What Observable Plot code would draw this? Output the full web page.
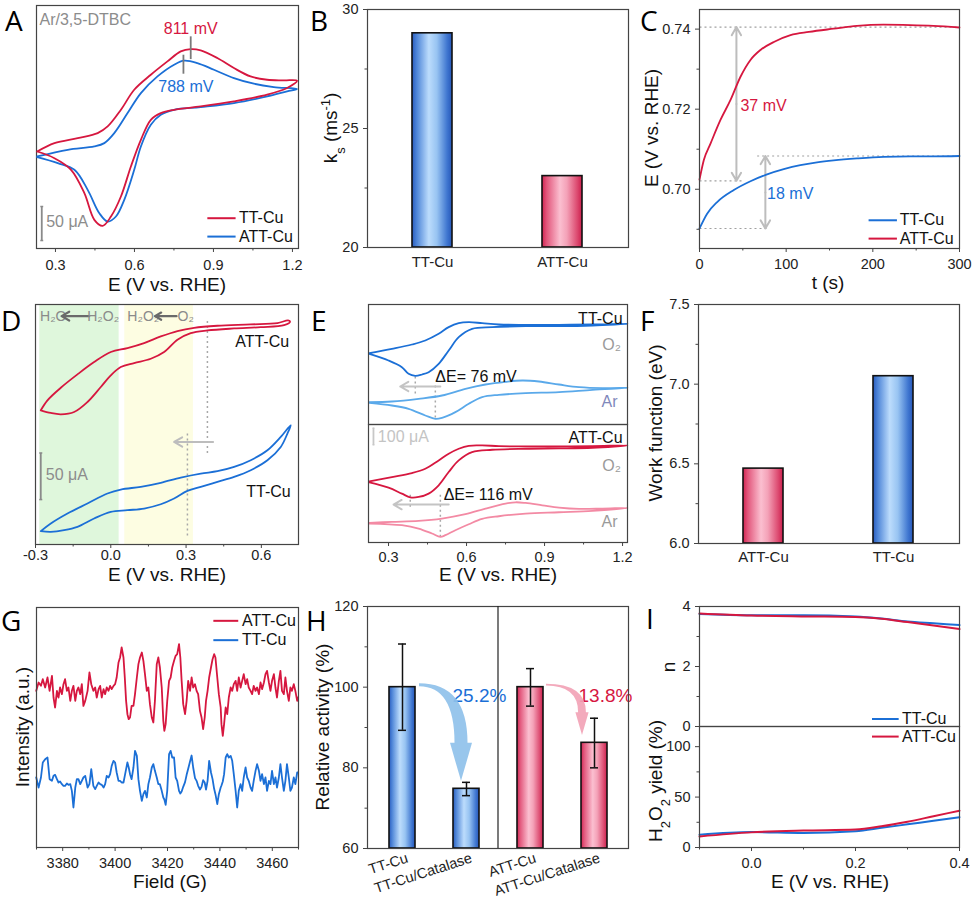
<!DOCTYPE html>
<html><head><meta charset="utf-8">
<script src="https://cdn.jsdelivr.net/npm/d3@7"></script>
<script src="https://cdn.jsdelivr.net/npm/@observablehq/plot@0.6"></script>
<style>
body{margin:0;background:#fff;}
#fig{position:relative;width:975px;height:900px;overflow:hidden;background:#fff;}
</style></head><body>
<svg width="0" height="0" style="position:absolute">
<defs>
<linearGradient id="gBlue" x1="0" x2="1" y1="0" y2="0">
<stop offset="0" stop-color="#2a5cbf"/><stop offset="0.12" stop-color="#4f86d8"/><stop offset="0.42" stop-color="#bcdcfc"/><stop offset="0.62" stop-color="#98c4f2"/><stop offset="0.88" stop-color="#3f76d0"/><stop offset="1" stop-color="#2656b8"/>
</linearGradient>
<linearGradient id="gRed" x1="0" x2="1" y1="0" y2="0">
<stop offset="0" stop-color="#d12452"/><stop offset="0.12" stop-color="#e2577c"/><stop offset="0.45" stop-color="#fbbfd0"/><stop offset="0.62" stop-color="#f4a2b8"/><stop offset="0.88" stop-color="#dc4a70"/><stop offset="1" stop-color="#cc1e4c"/>
</linearGradient>
</defs></svg>
<div id="fig"></div>
<script>
// ================= DATA =================
// A: CV in Ar/3,5-DTBC  [E (V vs RHE), I (uA)]
const A_TT = [[0.2306,-2.5],[0.2962,9.8],[0.3846,17.2],[0.4603,24.5],[0.4982,34.3],[0.5486,58.8],[0.5991,88.2],[0.6622,110.3],[0.7253,129.9],[0.7758,144.6],[0.8137,148.0],[0.8515,146.1],[0.9147,134.8],[0.9778,120.1],[1.0409,107.8],[1.104,102.9],[1.1671,102.0],[1.2176,101.5],[1.1797,90.7],[1.104,80.9],[0.9778,71.1],[0.8515,63.7],[0.7506,58.8],[0.7001,53.9],[0.6622,44.1],[0.6244,14.7],[0.5865,-24.5],[0.5486,-68.6],[0.5108,-98.0],[0.4792,-111.8],[0.4477,-102.9],[0.4098,-63.7],[0.3593,-29.4],[0.2962,-12.3],[0.2306,-2.5]];
const A_ATT = [[0.2306,-9.8],[0.3467,0],[0.4477,4.9],[0.4855,9.8],[0.5234,24.5],[0.5739,53.9],[0.6244,83.3],[0.6875,107.8],[0.7506,125.0],[0.7885,130.9],[0.8389,127.5],[0.902,117.6],[0.9778,105.4],[1.0535,97.1],[1.1292,92.2],[1.2176,89.2],[1.1797,85.8],[1.104,78.4],[0.9778,68.6],[0.8515,62.7],[0.7506,58.8],[0.7001,51.5],[0.6622,36.8],[0.6244,4.9],[0.5991,-29.4],[0.5613,-73.5],[0.5297,-98.0],[0.4982,-105.4],[0.4666,-93.1],[0.4224,-58.8],[0.3719,-29.4],[0.3088,-19.6],[0.2306,-10.8]];
const A_peaks = [0.811, 0.788];

// B: rate constants
const B_cat = ["TT-Cu", "ATT-Cu"];
const B_ks = [29, 23];

// C: open-circuit potential vs time
const C_tTT = [0, 8.8, 20.4, 39.6, 58.8, 78, 97.2, 116.4, 135.6, 154.8, 181.7, 212.4, 243.1, 270, 300];
const C_TT = [0.6902, 0.6939, 0.6968, 0.6998, 0.7020, 0.7037, 0.7050, 0.7060, 0.7067, 0.7072, 0.7077, 0.7081, 0.7082, 0.7082, 0.7083];
const C_tATT = [0, 5, 12.7, 24.2, 35.8, 47.3, 58.8, 70.4, 85.8, 105, 126.2, 154.8, 181.7, 212.4, 243.1, 270, 300];
const C_ATT = [0.7024, 0.7073, 0.7114, 0.7173, 0.7223, 0.7281, 0.7323, 0.7348, 0.7368, 0.7385, 0.7393, 0.7401, 0.7408, 0.7411, 0.7410, 0.7408, 0.7404];

// D: CV in O2
const D_ATT = [[-0.2789,42.9],[-0.2523,53.6],[-0.1992,67.1],[-0.1328,81.4],[-0.0664,94.6],[0,105.4],[0.0664,109.6],[0.1328,115],[0.1992,122.1],[0.2656,127.9],[0.332,131.4],[0.425,133.6],[0.5578,135],[0.664,136.4],[0.7065,139.3],[0.7145,137.9],[0.6906,134.3],[0.5976,132.1],[0.4914,130.7],[0.3851,128.6],[0.3187,125.7],[0.2656,118.6],[0.2125,105.4],[0.1594,98.2],[0.093,93.6],[0.0398,89.3],[0,80.4],[-0.0398,67.9],[-0.093,51.8],[-0.1461,41.1],[-0.1992,38.6],[-0.239,40],[-0.2789,42.9]];
const D_TT = [[-0.2789,-86.8],[-0.239,-78.6],[-0.1726,-67.9],[-0.093,-57.1],[-0.0133,-46.4],[0.0398,-42.1],[0.1195,-39.3],[0.1992,-35],[0.2789,-29.3],[0.3586,-25],[0.425,-22.5],[0.4914,-17.9],[0.5578,-10.7],[0.6242,0],[0.6773,14.3],[0.7171,26.8],[0.7039,17.9],[0.6773,3.6],[0.6242,-10.7],[0.5578,-21.4],[0.4914,-28.6],[0.425,-33.9],[0.3586,-39.3],[0.3054,-43.6],[0.2523,-51.8],[0.1992,-57.9],[0.1328,-62.5],[0.0664,-64.3],[0,-66.1],[-0.0664,-73.2],[-0.1328,-82.1],[-0.1859,-85.7],[-0.239,-87.5],[-0.2789,-86.8]];

// E: CVs in O2 and Ar
const E_TT_O2 = [[0.2267,4],[0.3129,30],[0.39,56],[0.4414,80],[0.4929,120],[0.5314,160],[0.57,184],[0.6086,190],[0.66,184],[0.7243,176],[0.8271,174],[0.9557,174],[1.0843,176],[1.2193,180],[1.0843,170],[0.9557,166],[0.8271,166],[0.6986,160],[0.6214,150],[0.57,100],[0.5314,20],[0.4929,-60],[0.4543,-110],[0.4286,-124],[0.4029,-132],[0.3771,-120],[0.3514,-80],[0.3,-40],[0.2267,0]];
const E_TT_Ar = [[0.2267,-290],[0.3129,-286],[0.4157,-270],[0.5057,-250],[0.5957,-210],[0.6729,-184],[0.75,-168],[0.8143,-160],[0.8786,-166],[0.9557,-184],[1.0329,-200],[1.1229,-206],[1.2193,-204],[1.0843,-216],[0.9557,-230],[0.8271,-236],[0.7243,-246],[0.66,-260],[0.6086,-300],[0.5571,-350],[0.5057,-384],[0.48,-390],[0.4414,-370],[0.3771,-330],[0.3129,-310],[0.2267,-294]];
const E_ATT_O2 = [[0.2267,4],[0.3129,30],[0.39,54],[0.4414,80],[0.4929,130],[0.5314,170],[0.57,200],[0.6086,218],[0.66,220],[0.7243,216],[0.8271,214],[0.9557,214],[1.0843,216],[1.2193,220],[1.0843,206],[0.9557,202],[0.8271,200],[0.6986,194],[0.6214,180],[0.57,130],[0.5314,60],[0.4929,-20],[0.4543,-70],[0.4157,-90],[0.3836,-92],[0.3514,-70],[0.3,-34],[0.2267,-2]];
const E_ATT_Ar = [[0.2267,-246],[0.3129,-240],[0.4157,-234],[0.5057,-220],[0.5957,-194],[0.6729,-160],[0.75,-130],[0.7886,-122],[0.8271,-126],[0.8914,-140],[0.9557,-154],[1.0329,-162],[1.1229,-160],[1.2193,-156],[1.0843,-174],[0.9557,-182],[0.8271,-190],[0.7243,-206],[0.66,-222],[0.6086,-254],[0.5571,-290],[0.5186,-320],[0.4993,-330],[0.4671,-310],[0.4157,-280],[0.3514,-260],[0.2267,-250]];

// F: work function
const F_cat = ["ATT-Cu", "TT-Cu"];
const F_wf = [6.47, 7.05];

// G: EPR
const G_field = [3369.9,3370.8,3371.7,3372.4,3373.3,3374.2,3375.0,3375.9,3376.5,3377.1,3377.8,3378.4,3379.0,3379.7,3380.3,3380.9,3381.6,3382.2,3382.9,3383.5,3384.1,3384.8,3385.4,3386.0,3386.7,3387.3,3387.9,3388.6,3389.5,3390.2,3390.9,3391.7,3392.4,3393.0,3393.7,3394.3,3394.9,3395.6,3396.2,3396.8,3397.5,3398.1,3398.7,3399.4,3400.0,3400.6,3401.3,3401.9,3402.5,3403.2,3403.7,3404.2,3404.7,3405.2,3405.7,3406.3,3407.0,3407.6,3408.3,3408.9,3409.5,3410.2,3410.8,3411.4,3412.1,3412.7,3413.3,3414.0,3414.6,3415.2,3415.9,3416.5,3417.1,3417.8,3418.4,3418.8,3419.3,3419.9,3420.6,3421.2,3421.8,3422.5,3423.1,3423.7,3424.4,3424.9,3425.4,3426.0,3426.7,3427.3,3427.9,3428.6,3429.2,3429.8,3430.5,3431.1,3431.7,3432.4,3433.0,3433.6,3434.2,3434.7,3435.3,3435.9,3436.6,3437.2,3437.8,3438.3,3439.0,3439.6,3440.3,3440.6,3441.1,3441.6,3442.2,3442.8,3443.4,3444.1,3444.7,3445.3,3446.0,3446.6,3447.2,3447.9,3448.5,3449.1,3449.8,3450.4,3451.0,3451.7,3452.3,3452.9,3453.6,3454.2,3454.9,3455.5,3456.1,3456.8,3457.4,3458.0,3458.7,3459.3,3459.9,3460.6,3461.2,3461.8,3462.5,3463.1,3463.7,3464.4,3465.0,3465.6,3466.3,3466.9,3467.5,3468.2,3468.8,3469.5,3469.8];
const G_ATT = [45,47.5,46.5,48.5,46,49,45,49.5,43,40,45,43,46,44,47,48.5,45,46,42,45,46.5,42,45,46,44,47,40.5,42,45,50.5,47,45,46,43,45.5,46.5,43,45.5,44,46,45,46.5,45.5,46.5,47,49,53.5,55,58,55,49,42,38,36.5,37,40.5,40.5,44,49,53,55,56.5,54,50,45,46,41,37,35.5,42,53,55,52,46,36,33,35,42,48,49,52,54,55.5,56,59,55,48,41,38,42,48,45,49,46,47,45,44,39,37,33.5,37,42,45,49,52,54.5,56,55,49,44,40,35,31.5,35,40,38,43,46,45,47,48,45,49,46,48,50,47,48.5,46,45,44,46.5,45,46,44,47.5,45.5,47.5,50,51,47.5,45,48,50,46,43,48,51,45,44,49,45,42,46,45,47,45,42,43];
const G_TT = [19,16,19,23.5,24.5,25,18.5,18,19.5,19.8,18.5,17.5,17.8,17,16.5,16.5,17.2,16.8,17,15,10,16,18.5,18.5,17,18,19,19.5,16,17,21.5,16.5,15.5,16.5,17.5,17,16.8,16,17,19.5,19,20,22.5,24,23.5,20.5,18,18,17.5,17.5,19.5,21.5,23.5,22,20,18.5,22,27,25.5,18.5,15,12,14,15,13,17,19,22,23,21,19,17,17,15,13,12.4,10.8,15,26,27,25,25,19,18,15,14.2,14.8,16.2,17.6,19.8,21.6,23.8,25.6,22,18.8,18,16.5,15.4,16.2,18.2,17.5,15.4,18,24,20.5,18.5,15.6,14,11,14,16,16.6,17.8,20,25,26,25,25.5,24,20,15,10,15,17,15,19,22,19,18,16,15,18,21,23,21,18,20,17,19,15,18,17,21,17,19,16,19,23,19,15,18,23,19,15,16,19,17,20.5,20.5];

// H: relative activity
const H_cat = ["TT-Cu", "TT-Cu/Catalase", "ATT-Cu", "ATT-Cu/Catalase"];
const H_val = [100, 74.8, 100, 86.2];
const H_lo = [89.3, 73.1, 95.3, 80.0];
const H_hi = [110.7, 76.4, 104.6, 92.3];
const H_drop = ["25.2%", "13.8%"];

// I: RRDE
const I_E = [-0.1, 0.0, 0.1, 0.2, 0.25, 0.3, 0.35, 0.4];
const I_nTT = [3.75, 3.71, 3.71, 3.67, 3.60, 3.50, 3.44, 3.38];
const I_nATT = [3.77, 3.70, 3.67, 3.65, 3.59, 3.48, 3.37, 3.25];
const I_yTT = [12.6, 15.3, 14.5, 16.2, 19.5, 23.0, 26.5, 30.0];
const I_yATT = [11.0, 15.0, 16.8, 17.8, 21.0, 25.5, 31.0, 36.5];

// ================= STYLE / HELPERS =================
const RED = "#d6173f", BLUE = "#1b6fd6", LBLUE = "#5aa9ea", PINK = "#f38aa4", GRAY = "#8c8c8c", AX = "#444";
const FONT = '"Liberation Sans", Arial, sans-serif';
const fig = document.getElementById("fig");
const style = {fontFamily: FONT, fontSize: "14.5px", color: "#222", background: "transparent", overflow: "visible"};

function mount(svg, left, top) {
  svg.style.position = "absolute"; svg.style.left = left + "px"; svg.style.top = top + "px";
  fig.appendChild(svg); return svg;
}
const frame = () => Plot.frame({stroke: AX, strokeWidth: 1.2});
const xAxis = (ticks, fmt, pad = 6) => Plot.axisX({ticks, tickFormat: fmt, tickSize: 4, tickPadding: pad, label: null, stroke: AX});
const xMinor = (ticks) => Plot.axisX({ticks, tickFormat: () => "", tickSize: 2.5, label: null, stroke: AX});
const yAxis = (ticks, fmt, pad = 5) => Plot.axisY({ticks, tickFormat: fmt, tickSize: 4, tickPadding: pad, label: null, stroke: AX});
const yMinor = (ticks) => Plot.axisY({ticks, tickFormat: () => "", tickSize: 2.5, label: null, stroke: AX});
const f1 = d => d.toFixed(1), f2 = d => d.toFixed(2), f0 = d => String(d);
const note = (x, y, t, fill, anchor = "start", size = 16) =>
  Plot.text([{x, y, t}], {x: "x", y: "y", text: "t", fill, textAnchor: anchor, fontSize: size, fontFamily: FONT});
const seg = (x1, y1, x2, y2, stroke, w = 1.5, dash = null) =>
  Plot.link([{x1, y1, x2, y2}], {x1: "x1", y1: "y1", x2: "x2", y2: "y2", stroke, strokeWidth: w, strokeDasharray: dash});
const arr = (x1, y1, x2, y2, stroke, w = 2, head = 8) =>
  Plot.arrow([{x1, y1, x2, y2}], {x1: "x1", y1: "y1", x2: "x2", y2: "y2", stroke, strokeWidth: w, headLength: head});
const pairLine = (data, stroke, w = 1.8) => Plot.line(data, {x: d => d[0], y: d => d[1], stroke, strokeWidth: w, curve: "catmull-rom"});

function title(svg, x, y, parts, {rotate = false, size = 19, anchor = "middle", fill = "#111"} = {}) {
  const t = d3.select(svg).append("text").attr("x", x).attr("y", y).attr("text-anchor", anchor)
    .attr("font-size", size).attr("font-family", FONT).attr("fill", fill);
  if (rotate) t.attr("transform", `rotate(-90 ${x} ${y})`);
  for (const p of parts) {
    if (typeof p === "string") t.append("tspan").text(p);
    else if (p.sub) t.append("tspan").attr("baseline-shift", "sub").attr("font-size", size * 0.68).text(p.sub);
    else t.append("tspan").attr("baseline-shift", "super").attr("font-size", size * 0.68).text(p.sup);
  }
}

// ================= PANEL A =================
{
  const p = Plot.plot({width: 325, height: 300, marginLeft: 36, marginRight: 27, marginTop: 5, marginBottom: 52, style,
    x: {domain: [0.228, 1.223]}, y: {domain: [-145, 212], axis: null},
    marks: [
      frame(), xAxis([0.3, 0.6, 0.9, 1.2], f1, 7), xMinor([0.45, 0.75, 1.05]),
      pairLine(A_ATT, BLUE), pairLine(A_TT, RED),
      seg(A_peaks[0] + 0.0027, 133.3, A_peaks[0] + 0.0027, 166.7, "#7a7a7a", 1.8),
      seg(A_peaks[1] - 0.002, 111.8, A_peaks[1] - 0.002, 139.7, "#7a7a7a", 1.8),
      note(0.8137, 177, `${Math.round(A_peaks[0] * 1000)} mV`, RED, "middle"),
      note(0.795, 92, `${Math.round(A_peaks[1] * 1000)} mV`, BLUE, "middle"),
      note(0.2394, 191, "Ar/3,5-DTBC", GRAY),
      seg(0.248, -133.3, 0.248, -83.3, "#8a8a8a", 1.8),
      seg(0.2425, -133.3, 0.2535, -133.3, "#8a8a8a", 1.5), seg(0.2425, -83.3, 0.2535, -83.3, "#8a8a8a", 1.5),
      note(0.2647, -105.4, "50 μA", GRAY),
      seg(0.8768, -100.5, 0.9841, -100.5, RED, 2), note(0.9967, -100.5, "TT-Cu", "#111"),
      seg(0.8768, -127.5, 0.9841, -127.5, BLUE, 2), note(0.9967, -127.5, "ATT-Cu", "#111")
    ]});
  mount(p, 0, 0);
  title(p, 167, 291, ["E (V vs. RHE)"]);
}

// ================= PANEL B =================
{
  const data = B_cat.map((c, i) => ({c, v: B_ks[i]}));
  const p = Plot.plot({width: 325, height: 300, marginLeft: 42, marginRight: 22, marginTop: 9, marginBottom: 53, style,
    x: {domain: B_cat, paddingInner: 0.69, paddingOuter: 0.347}, y: {domain: [20, 30]},
    marks: [
      Plot.barY(data.filter(d => d.c === "TT-Cu"), {x: "c", y1: 20, y2: "v", fill: "url(#gBlue)", stroke: "#111", strokeWidth: 1.6}),
      Plot.barY(data.filter(d => d.c === "ATT-Cu"), {x: "c", y1: 20, y2: "v", fill: "url(#gRed)", stroke: "#111", strokeWidth: 1.6}),
      frame(), Plot.axisX({tickSize: 0, tickPadding: 9, label: null, fontSize: 15}),
      yAxis([20, 25, 30], f0), yMinor([22.5, 27.5])
    ]});
  mount(p, 325, 0);
  title(p, 12, 128, ["k", {sub: "s"}, " (ms", {sup: "-1"}, ")"], {rotate: true});
}

// ================= PANEL C =================
{
  const tt = C_tTT.map((t, i) => ({t, e: C_TT[i]})), at = C_tATT.map((t, i) => ({t, e: C_ATT[i]}));
  const dot = "2,3", gc = "#a0a0a0", ac = "#bdbdbd";
  const p = Plot.plot({width: 325, height: 300, marginLeft: 49, marginRight: 16, marginTop: 9, marginBottom: 52, style,
    x: {domain: [0, 300]}, y: {domain: [0.6852, 0.7449]},
    marks: [
      seg(0, 0.7405, 300, 0.7405, gc, 1.2, dot), seg(0, 0.7021, 49, 0.7021, gc, 1.2, dot),
      seg(66.5, 0.7083, 300, 0.7083, gc, 1.2, dot), seg(0, 0.6902, 80, 0.6902, gc, 1.2, dot),
      arr(42.6, 0.7213, 42.6, 0.7405, ac, 2, 7), arr(42.6, 0.7213, 42.6, 0.7021, ac, 2, 7),
      arr(76, 0.6992, 76, 0.7083, ac, 2, 7), arr(76, 0.6992, 76, 0.6902, ac, 2, 7),
      Plot.line(tt, {x: "t", y: "e", stroke: BLUE, strokeWidth: 1.8, curve: "monotone-x"}),
      Plot.line(at, {x: "t", y: "e", stroke: RED, strokeWidth: 1.8, curve: "monotone-x"}),
      note(47.2, 0.72075, "37 mV", RED), note(78, 0.69875, "18 mV", BLUE),
      seg(195.1, 0.69225, 227.8, 0.69225, BLUE, 2), note(231, 0.69225, "TT-Cu", "#111"),
      seg(195.1, 0.68767, 227.8, 0.68767, RED, 2), note(231, 0.68767, "ATT-Cu", "#111"),
      frame(), xAxis([0, 100, 200, 300], f0, 6), xMinor([50, 150, 250]),
      yAxis([0.70, 0.72, 0.74], f2), yMinor([0.69, 0.71, 0.73])
    ]});
  mount(p, 650, 0);
  title(p, 178, 289, ["t (s)"]);
  title(p, 8, 128, ["E (V vs. RHE)"], {rotate: true});
}

// ================= PANEL D =================
{
  const sub = "#8a8a8a";
  const p = Plot.plot({width: 325, height: 290, marginLeft: 35, marginRight: 27, marginTop: 4, marginBottom: 46, style,
    x: {domain: [-0.3, 0.748]}, y: {domain: [-101.1, 156.4], axis: null},
    marks: [
      Plot.rect([{a: -0.283, b: 0.0332}], {x1: "a", x2: "b", fill: "#dff7dc"}),
      Plot.rect([{a: 0.0558, b: 0.3293}], {x1: "a", x2: "b", fill: "#fdfde2"}),
      seg(0.385, 138.6, 0.385, -3.6, "#a8a8a8", 1.5, "2,3"),
      seg(0.3054, 17.9, 0.3054, -93.6, "#a8a8a8", 1.5, "2,3"),
      arr(0.4077, 8.9, 0.2523, 8.9, "#bdbdbd", 2, 7),
      pairLine(D_ATT, RED), pairLine(D_TT, BLUE),
      note(-0.282, 143.9, "H₂O", sub, "start", 14), arr(-0.086, 143.9, -0.196, 143.9, "#6a6a6a", 2.2, 6), note(0.033, 143.9, "H₂O₂", sub, "end", 14),
      note(0.066, 143.9, "H₂O₂", sub, "start", 14), arr(0.262, 143.9, 0.176, 143.9, "#6a6a6a", 2.2, 6), note(0.331, 143.9, "O₂", sub, "end", 14),
      note(0.7105, 116, "ATT-Cu", "#111", "end"), note(0.717, -44.6, "TT-Cu", "#111", "end"),
      seg(-0.279, -2.9, -0.279, -52.9, "#8a8a8a", 1.8),
      seg(-0.285, -2.9, -0.273, -2.9, "#8a8a8a", 1.5), seg(-0.285, -52.9, -0.273, -52.9, "#8a8a8a", 1.5),
      note(-0.259, -26.8, "50 μA", GRAY),
      frame(), xAxis([-0.3, 0.0, 0.3, 0.6], f1, 1), xMinor([-0.15, 0.15, 0.45])
    ]});
  mount(p, 0, 300);
  title(p, 167, 281, ["E (V vs. RHE)"]);
}

// ================= PANEL E =================
{
  const p1 = Plot.plot({width: 325, height: 124, marginLeft: 43, marginRight: 23, marginTop: 4, marginBottom: 0, style,
    x: {domain: [0.223, 1.219], axis: null}, y: {domain: [-424, 296], axis: null},
    marks: [
      seg(0.4029, -136, 0.4029, -250, "#a8a8a8", 1.5, "2,3"),
      seg(0.48, -190, 0.48, -394, "#a8a8a8", 1.5, "2,3"),
      arr(0.4993, -196, 0.345, -196, "#c4c4c4", 2, 7),
      pairLine(E_TT_Ar, LBLUE), pairLine(E_TT_O2, BLUE),
      note(0.48, -136, "ΔE= 76 mV", "#111", "start", 16),
      note(1.2, 212, "TT-Cu", "#111", "end"), note(1.194, 52, "O₂", "#9a9a9a", "end"), note(1.181, -288, "Ar", "#8088bb", "end"),
      frame()
    ]});
  mount(p1, 325, 300);
  const p2 = Plot.plot({width: 325, height: 166, marginLeft: 43, marginRight: 23, marginTop: 0, marginBottom: 48, style,
    x: {domain: [0.223, 1.219]}, y: {domain: [-364, 346], axis: null},
    marks: [
      seg(0.3836, -76, 0.3836, -166, "#a8a8a8", 1.5, "2,3"),
      seg(0.4993, -76, 0.4993, -334, "#a8a8a8", 1.5, "2,3"),
      arr(0.5314, -136, 0.3193, -136, "#c4c4c4", 2, 7),
      pairLine(E_ATT_Ar, PINK), pairLine(E_ATT_O2, RED),
      note(0.512, -76, "ΔE= 116 mV", "#111", "start", 16),
      note(1.2, 268, "ATT-Cu", "#111", "end"), note(1.194, 96, "O₂", "#9a9a9a", "end"), note(1.181, -238, "Ar", "#9a9a9a", "end"),
      seg(0.2421, 324, 0.2421, 224, "#c8c8c8", 1.8),
      seg(0.2385, 324, 0.2457, 324, "#c8c8c8", 1.5), seg(0.2385, 224, 0.2457, 224, "#c8c8c8", 1.5),
      note(0.2589, 274, "100 μA", "#c4c4c4"),
      frame(), xAxis([0.3, 0.6, 0.9, 1.2], f1, 5), xMinor([0.45, 0.75, 1.05])
    ]});
  mount(p2, 325, 424);
  title(p2, 173, 157, ["E (V vs. RHE)"]);
}

// ================= PANEL F =================
{
  const data = F_cat.map((c, i) => ({c, v: F_wf[i]}));
  const p = Plot.plot({width: 325, height: 290, marginLeft: 48, marginRight: 16, marginTop: 4, marginBottom: 47, style,
    x: {domain: F_cat, paddingInner: 0.69, paddingOuter: 0.347}, y: {domain: [6, 7.5]},
    marks: [
      Plot.barY(data.filter(d => d.c === "ATT-Cu"), {x: "c", y1: 6, y2: "v", fill: "url(#gRed)", stroke: "#111", strokeWidth: 1.6}),
      Plot.barY(data.filter(d => d.c === "TT-Cu"), {x: "c", y1: 6, y2: "v", fill: "url(#gBlue)", stroke: "#111", strokeWidth: 1.6}),
      frame(), Plot.axisX({tickSize: 0, tickPadding: 8, label: null, fontSize: 15}),
      yAxis([6.0, 6.5, 7.0, 7.5], f1), yMinor([6.25, 6.75, 7.25])
    ]});
  mount(p, 650, 300);
  title(p, 12, 123, ["Work function (eV)"], {rotate: true});
}

// ================= PANEL G =================
{
  const att = G_field.map((f, i) => ({f, v: G_ATT[i]})), tt = G_field.map((f, i) => ({f, v: G_TT[i]}));
  const p = Plot.plot({width: 325, height: 310, marginLeft: 36, marginRight: 27, marginTop: 17, marginBottom: 53, style,
    x: {domain: [3370, 3470]}, y: {domain: [-2, 70], axis: null},
    marks: [
      Plot.line(att, {x: "f", y: "v", stroke: RED, strokeWidth: 1.8}),
      Plot.line(tt, {x: "f", y: "v", stroke: BLUE, strokeWidth: 1.8}),
      seg(3437.5, 66, 3447, 66, RED, 2), note(3448.4, 66, "ATT-Cu", "#111"),
      seg(3437.5, 60.2, 3447, 60.2, BLUE, 2), note(3448.4, 60.2, "TT-Cu", "#111"),
      frame(), xAxis([3380, 3400, 3420, 3440, 3460], f0, 6), xMinor([3370, 3390, 3410, 3430, 3450, 3470])
    ]});
  mount(p, 0, 590);
  title(p, 170, 298, ["Field (G)"]);
  title(p, 29, 137, ["Intensity (a.u.)"], {rotate: true});
}

// ================= PANEL H =================
{
  const data = H_cat.map((c, i) => ({c, v: H_val[i], lo: H_lo[i], hi: H_hi[i]}));
  const blue = data.filter(d => d.c.startsWith("TT")), red = data.filter(d => d.c.startsWith("ATT"));
  const p = Plot.plot({width: 325, height: 310, marginLeft: 42, marginRight: 22, marginTop: 16, marginBottom: 52, style,
    x: {domain: H_cat, paddingInner: 0.6, paddingOuter: 0.324}, y: {domain: [60, 120]},
    marks: [
      Plot.barY(blue, {x: "c", y1: 60, y2: "v", fill: "url(#gBlue)", stroke: "#111", strokeWidth: 1.6}),
      Plot.barY(red, {x: "c", y1: 60, y2: "v", fill: "url(#gRed)", stroke: "#111", strokeWidth: 1.6}),
      Plot.ruleX(data, {x: "c", y1: "lo", y2: "hi", stroke: "#111", strokeWidth: 1.5}),
      Plot.tickY(data, {x: "c", y: "lo", insetLeft: 9, insetRight: 9, stroke: "#111", strokeWidth: 1.5}),
      Plot.tickY(data, {x: "c", y: "hi", insetLeft: 9, insetRight: 9, stroke: "#111", strokeWidth: 1.5}),
      Plot.text([{c: "TT-Cu/Catalase", y: 97.8, t: H_drop[0]}], {x: "c", y: "y", text: "t", dx: -14, textAnchor: "start", fill: BLUE, fontSize: 19}),
      Plot.text([{c: "ATT-Cu/Catalase", y: 97.8, t: H_drop[1]}], {x: "c", y: "y", text: "t", dx: -16, textAnchor: "start", fill: RED, fontSize: 19}),
      frame(), Plot.axisX({tickSize: 0, tickPadding: 9, tickRotate: -18, dx: 5, label: null, fontSize: 14.5}),
      yAxis([60, 80, 100, 120], f0), yMinor([70, 90, 110])
    ]});
  mount(p, 325, 590);
  const xs = p.scale("x"), ys = p.scale("y"), bw = xs.bandwidth;
  const mid = (xs.apply(H_cat[1]) + bw + xs.apply(H_cat[2])) / 2;
  d3.select(p).append("line").attr("x1", mid).attr("x2", mid).attr("y1", ys.apply(120)).attr("y2", ys.apply(60)).attr("stroke", "#222").attr("stroke-width", 1.2);
  function curvedArrow(sx, sy, tx, ty, color, k) {
    const hl = 38 * k, hw = 11 * k, sw = 6.5 * k, s0 = 1.5 * k, by = ty - hl;
    const d = `M${sx},${sy - s0} Q${tx + sw},${sy - s0} ${tx + sw},${by} L${tx + hw},${by} L${tx},${ty} L${tx - hw},${by} L${tx - sw},${by} Q${tx - sw},${sy + s0} ${sx},${sy + s0} Z`;
    d3.select(p).append("path").attr("d", d).attr("fill", color).attr("opacity", 0.92);
  }
  curvedArrow(xs.apply(H_cat[0]) + bw + 4, ys.apply(H_val[0]) - 2, xs.apply(H_cat[1]) + bw / 2 - 5, ys.apply(H_hi[1]) - 1, "#8fc1ea", 1);
  curvedArrow(xs.apply(H_cat[2]) + bw + 3, ys.apply(H_val[2]) - 2, xs.apply(H_cat[3]) + bw / 2 - 12, ys.apply(88), "#f2a3b6", 0.6);
  title(p, 4, 137, ["Relative activity (%)"], {rotate: true});
}

// ================= PANEL I =================
{
  const mk = (ys) => I_E.map((e, i) => ({e, v: ys[i]}));
  const p1 = Plot.plot({width: 325, height: 136, marginLeft: 49, marginRight: 16, marginTop: 16, marginBottom: 0, style,
    x: {domain: [-0.1, 0.4], axis: null}, y: {domain: [0, 4]},
    marks: [
      Plot.line(mk(I_nTT), {x: "e", y: "v", stroke: BLUE, strokeWidth: 2, curve: "monotone-x"}),
      Plot.line(mk(I_nATT), {x: "e", y: "v", stroke: RED, strokeWidth: 2, curve: "monotone-x"}),
      seg(0.2317, 0.25, 0.283, 0.25, BLUE, 2), note(0.2894, 0.25, "TT-Cu", "#111"),
      frame(), yAxis([0, 2, 4], f0), yMinor([1, 3])
    ]});
  mount(p1, 650, 590);
  title(p1, 25, 77, ["n"], {rotate: true});
  const p2 = Plot.plot({width: 325, height: 174, marginLeft: 49, marginRight: 16, marginTop: 0, marginBottom: 53, style,
    x: {domain: [-0.1, 0.4]}, y: {domain: [0, 120]},
    marks: [
      Plot.line(mk(I_yTT), {x: "e", y: "v", stroke: BLUE, strokeWidth: 2, curve: "monotone-x"}),
      Plot.line(mk(I_yATT), {x: "e", y: "v", stroke: RED, strokeWidth: 2, curve: "monotone-x"}),
      seg(0.2317, 110, 0.283, 110, RED, 2), note(0.2894, 110, "ATT-Cu", "#111"),
      frame(), xAxis([0.0, 0.2, 0.4], f1, 6), xMinor([-0.1, 0.1, 0.3]),
      yAxis([0, 50, 100], f0), yMinor([25, 75])
    ]});
  mount(p2, 650, 726);
  title(p2, 12, 55, ["H", {sub: "2"}, "O", {sub: "2"}, " yield (%)"], {rotate: true});
  title(p2, 180, 162, ["E (V vs. RHE)"]);
}

// ================= PANEL LETTERS =================
{
  const s = d3.select(fig).append("svg").attr("width", 975).attr("height", 900)
    .style("position", "absolute").style("left", "0px").style("top", "0px").style("pointer-events", "none");
  const L = [["A", 5, 31], ["B", 310, 31], ["C", 640, 31], ["D", 1, 331], ["E", 311, 331], ["F", 640, 331], ["G", 1, 631], ["H", 306, 631], ["I", 646, 629]];
  for (const [t, x, y] of L) s.append("text").attr("x", x).attr("y", y).attr("font-size", 28).attr("font-family", '"Open Sans", sans-serif').attr("fill", "#000").text(t);
}
</script></body></html>
